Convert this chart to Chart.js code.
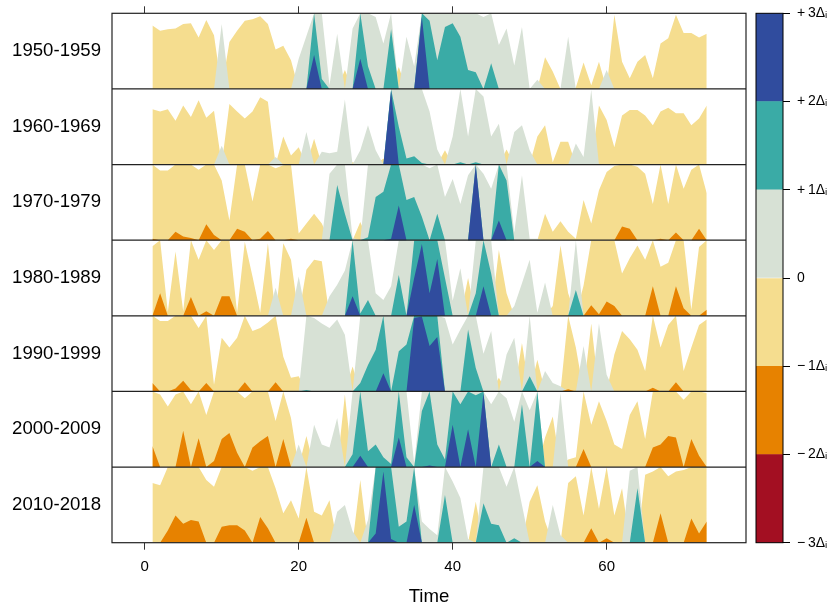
<!DOCTYPE html>
<html>
<head>
<meta charset="utf-8">
<script src="https://cdn.jsdelivr.net/npm/chart.js@4.4.0/dist/chart.umd.min.js"></script>
<style>
html, body { margin: 0; padding: 0; background: #fff; }
#wrap { position: relative; width: 833px; height: 609px; }
#horizon { position: absolute; left: 0; top: 0; }
#key { position: absolute; left: 745px; top: 0; }
</style>
</head>
<body>
<div id="wrap">
  <canvas id="horizon" width="750" height="609"></canvas>
  <canvas id="key" width="88" height="609"></canvas>
</div>
<script>
// decades, top panel first
const decades = ["1950-1959", "1960-1969", "1970-1979", "1980-1989", "1990-1999", "2000-2009", "2010-2018"];

const timeSteps = [1, 2, 3, 4, 5, 6, 7, 8, 9, 10, 11, 12, 13, 14, 15, 16, 17, 18, 19, 20,
  21, 22, 23, 24, 25, 26, 27, 28, 29, 30, 31, 32, 33, 34, 35, 36, 37, 38, 39, 40,
  41, 42, 43, 44, 45, 46, 47, 48, 49, 50, 51, 52, 53, 54, 55, 56, 57, 58, 59, 60,
  61, 62, 63, 64, 65, 66, 67, 68, 69, 70, 71, 72, 73];

// values in units of delta_i
const v1950 = [-0.84, -0.77, -0.79, -0.80, -0.86, -0.87, -0.68, -0.91, -0.71, 0.86,
  -0.62, -0.77, -0.90, -0.92, -0.96, -0.86, -0.52, -0.57, -0.38, 0.40,
  0.70, 2.45, 1.13, 0.05, 0.73, -0.25, 0.80, 2.40, 1.30, 0.95,
  0.60, 1.79, -0.29, 0.69, 0.30, 2.95, 1.90, 1.38, 1.82, 1.87,
  1.69, 1.25, 1.22, 0.95, 1.34, 0.58, 0.80, 0.31, 0.82, 0.00,
  0.12, -0.42, -0.23, 0.00, 0.69, -0.02, -0.35, -0.05, -0.36, 0.25,
  -0.98, -0.36, -0.14, -0.36, -0.45, -0.14, -0.60, -0.67, -0.98, -0.74,
  -0.74, -0.68, -0.73];
const v1960 = [-0.73, -0.70, -0.73, -0.58, -0.78, -0.63, -0.85, -0.62, -0.71, 0.25,
  -0.80, -0.70, -0.61, -0.70, -0.89, -0.83, 0.10, -0.37, -0.12, -0.23,
  0.43, -0.34, 0.17, 0.15, 0.17, 0.86, -0.03, 0.19, 0.52, 0.19,
  -0.08, 2.98, 1.50, 1.08, 1.11, 1.02, 0.70, 0.20, -0.19, 0.37,
  1.03, 0.37, 1.03, 0.90, 0.37, 0.54, -0.20, 0.43, 0.52, 0.19,
  -0.37, -0.52, -0.03, -0.30, -0.30, 0.28, 0.10, 0.99, -0.78, -0.59,
  -0.23, -0.65, -0.72, -0.72, -0.65, -0.52, -0.70, -0.75, -0.68, -0.68,
  -0.52, -0.61, -0.78];
const v1970 = [-1.02, -0.92, -0.92, -1.11, -1.05, -1.03, -0.93, -1.21, -1.07, -0.79,
  -0.26, -1.15, -1.11, -0.51, -1.02, -1.12, -0.95, -0.99, -1.02, -0.09,
  -0.22, -0.35, -0.22, 0.88, 1.73, 1.35, 0.03, -0.24, 1.04, 1.57,
  1.64, 2.02, 2.46, 1.53, 1.57, 1.31, 0.95, 1.35, 0.57, 0.81,
  0.48, 0.86, 2.99, 0.88, 0.68, 2.26, 1.79, 0.10, 0.86, 0.02,
  0.02, -0.35, -0.11, -0.25, -0.11, -0.02, -0.53, -0.22, -0.66, -0.90,
  -0.98, -1.18, -1.15, -0.97, -0.88, -0.48, -1.02, -0.48, -1.10, -0.68,
  -0.93, -1.15, -0.62];
const v1980 = [-0.92, -1.30, -0.05, -0.85, -0.06, -1.25, -0.74, -1.06, -0.87, -1.26,
  -1.26, -0.04, -0.98, -0.52, -0.04, -0.96, 0.37, -0.96, -0.74, 0.52,
  -0.61, -0.74, -0.72, 0.26, 0.41, 0.60, 2.26, 1.03, 1.21, 0.30,
  0.21, 0.39, 1.54, 1.00, 2.50, 2.95, 2.30, 2.75, 1.50, 0.20,
  0.63, -0.50, 1.30, 2.39, 1.56, -0.87, -0.30, 0.13, 0.43, 0.74,
  0.04, 0.44, -0.13, -0.93, -0.30, 1.34, -0.40, -1.14, -1.02, -1.19,
  -1.13, -0.56, -0.76, -0.93, -0.74, -1.39, -0.65, -0.70, -1.39, -1.10,
  -0.08, -0.91, -1.08];
const v1990 = [-1.11, -0.93, -0.93, -1.04, -1.14, -1.02, -0.84, -1.11, -0.09, -0.71,
  -0.58, -0.71, -1.12, -0.80, -0.84, -0.91, -1.12, -0.46, -0.18, -0.20,
  1.02, 0.97, 0.90, 0.84, 0.95, 0.75, -0.33, 1.11, 1.35, 1.55,
  2.24, 1.00, 1.53, 1.62, 2.97, 2.99, 2.60, 2.72, 0.97, 0.62,
  0.82, 1.82, 1.31, 0.50, 0.80, -0.18, 0.49, 0.71, -0.64, 1.20,
  -0.42, 0.27, 0.11, 0.07, -1.03, -0.58, 0.60, -0.90, 0.90, 0.22,
  -0.49, -0.80, -0.69, -0.55, -0.27, -1.05, -0.58, -0.88, -1.12, -0.27,
  -0.58, -0.88, -0.95];
const v2000 = [-1.28, -0.96, -0.80, -0.96, -1.48, -0.83, -1.38, -0.69, -1.08, -1.37,
  -1.45, -1.19, -0.91, -1.26, -1.34, -1.41, -0.61, -1.37, -0.65, 0.30,
  -0.41, 0.56, 0.30, 0.26, 0.65, -0.96, 1.17, 2.15, 1.21, 1.30,
  1.13, 1.04, 2.39, 1.13, 0.05, 1.74, 2.02, 1.30, 1.10, 2.56,
  1.83, 2.50, 1.95, 2.98, 0.83, 1.30, 0.91, 0.60, 1.83, 0.75,
  2.08, -0.39, -0.67, 0.98, -0.10, -0.13, -1.24, -0.56, -0.87, -0.61,
  -0.30, -0.24, -0.69, -0.87, -0.37, -1.26, -1.30, -1.41, -1.39, -0.89,
  -1.37, -1.15, -0.98];
const v2010 = [-0.79, -0.76, -1.16, -1.36, -1.25, -1.30, -1.28, -0.83, -0.74, -1.21,
  -1.23, -1.23, -1.16, -0.95, -1.34, -1.19, -0.72, -0.39, -0.56, -0.32,
  -1.33, -0.41, -0.36, -0.56, 0.41, 0.50, 0.15, -0.83, 0.30, 2.12,
  2.94, 2.05, 1.21, 1.28, 2.50, 0.28, 0.18, 0.10, 1.63, 0.81,
  0.59, 0.05, -0.54, 1.52, 1.25, 1.23, 0.74, 1.06, 0.50, -0.54,
  -0.76, -0.28, 0.50, 0.10, -0.79, -0.88, -0.36, -1.19, -0.45, -1.06,
  -0.36, -0.72, 0.95, 1.72, -0.90, -0.94, -1.39, -0.88, -0.94, -0.96,
  -1.32, -1.12, -1.28];

const xTicks = [0, 20, 40, 60];
const keyTicks = [-3, -2, -1, 0, 1, 2, 3];
const keyLabels = ["\u2212\u20093\u0394\u1D62", "\u2212\u20092\u0394\u1D62", "\u2212\u20091\u0394\u1D62", "0",
  "+\u20091\u0394\u1D62", "+\u20092\u0394\u1D62", "+\u20093\u0394\u1D62"];

const posColors = ["#d7e1d5", "#3aaba6", "#304c9e"];
const negColors = ["#f5dd8f", "#e78200", "#a30f22"];
const keyColors = ["#a30f22", "#e78200", "#f5dd8f", "#d7e1d5", "#3aaba6", "#304c9e"];

Chart.defaults.font.family = "'Liberation Sans', Arial, 'DejaVu Sans', sans-serif";
Chart.defaults.color = "#000";

const series = [v1950, v1960, v1970, v1980, v1990, v2000, v2010];

// one layer of the horizon: the part of the value between k and k+1 deltas
function band(vals, base, k, sign, color) {
  return {
    data: vals.map((v, i) => ({
      x: timeSteps[i],
      y: base + Math.min(Math.max(sign * v - k, 0), 1)
    })),
    backgroundColor: color,
    borderColor: "rgba(0,0,0,0)",
    borderWidth: 0,
    pointRadius: 0,
    tension: 0,
    fill: { value: base },
    order: 3 - k
  };
}

const datasets = [];
series.forEach((vals, p) => {
  const base = series.length - 1 - p;
  for (let k = 0; k < 3; k++) {
    datasets.push(band(vals, base, k, 1, posColors[k]));
    datasets.push(band(vals, base, k, -1, negColors[k]));
  }
});

const panelFrame = {
  id: "panelFrame",
  afterDatasetsDraw(chart) {
    const { ctx, chartArea: a } = chart;
    const y = chart.scales.y;
    ctx.save();
    ctx.strokeStyle = "#222";
    ctx.lineWidth = 1.2;
    ctx.beginPath();
    for (let k = 1; k < decades.length; k++) {
      const py = y.getPixelForValue(k);
      ctx.moveTo(a.left, py);
      ctx.lineTo(a.right, py);
    }
    ctx.stroke();
    ctx.strokeRect(a.left, a.top, a.right - a.left, a.bottom - a.top);
    ctx.restore();
  }
};

const xGrid = { drawOnChartArea: false, tickLength: 7, color: "#333", lineWidth: 1 };

new Chart(document.getElementById("horizon"), {
  type: "line",
  data: { datasets: datasets },
  options: {
    responsive: false,
    animation: false,
    events: [],
    layout: { padding: { right: 4 } },
    plugins: { legend: { display: false }, tooltip: { enabled: false } },
    scales: {
      x: {
        type: "linear",
        min: -4.25,
        max: 78.1,
        afterBuildTicks: (s) => { s.ticks = xTicks.map((v) => ({ value: v })); },
        grid: xGrid,
        border: { display: false },
        ticks: { font: { size: 15 }, padding: 8, maxRotation: 0 },
        title: { display: true, text: "Time", font: { size: 18.6 }, padding: { top: 0, bottom: 1 } },
        afterFit: (s) => { s.height = 66.3; }
      },
      xTop: {
        type: "linear",
        position: "top",
        min: -4.25,
        max: 78.1,
        afterBuildTicks: (s) => { s.ticks = xTicks.map((v) => ({ value: v })); },
        grid: xGrid,
        border: { display: false },
        ticks: { display: false },
        afterFit: (s) => { s.height = 13.3; }
      },
      y: {
        type: "linear",
        min: 0,
        max: decades.length,
        afterBuildTicks: (s) => {
          s.ticks = decades.map((d, i) => ({ value: i + 0.5 }));
        },
        ticks: {
          callback: (v) => decades[Math.round(decades.length - 0.5 - v)],
          font: { size: 18.6 },
          padding: 11
        },
        grid: { display: false, drawTicks: false },
        border: { display: false },
        afterFit: (s) => { s.width = 112; s.paddingTop = 0; s.paddingBottom = 0; }
      }
    }
  },
  plugins: [panelFrame]
});

// colour key
const keyFrame = {
  id: "keyFrame",
  afterDatasetsDraw(chart) {
    const { ctx, chartArea: a } = chart;
    ctx.save();
    ctx.strokeStyle = "#000";
    ctx.lineWidth = 1;
    ctx.strokeRect(a.left, a.top, a.right - a.left, a.bottom - a.top);
    ctx.restore();
  }
};

new Chart(document.getElementById("key"), {
  type: "bar",
  data: {
    labels: [""],
    datasets: keyColors.map((c, i) => ({
      data: [[keyTicks[i], keyTicks[i + 1]]],
      backgroundColor: c,
      borderWidth: 0,
      barPercentage: 1,
      categoryPercentage: 1
    }))
  },
  options: {
    responsive: false,
    animation: false,
    events: [],
    layout: { padding: { left: 11, top: 13.3, bottom: 66.3 } },
    plugins: { legend: { display: false }, tooltip: { enabled: false } },
    scales: {
      x: { display: false, stacked: true },
      y: {
        position: "right",
        min: -3,
        max: 3,
        afterBuildTicks: (s) => { s.ticks = keyTicks.map((v) => ({ value: v })); },
        ticks: {
          callback: (v) => keyLabels[keyTicks.indexOf(v)],
          font: { size: 14 },
          padding: 7
        },
        grid: { drawOnChartArea: false, tickLength: 7, color: "#000" },
        border: { display: false },
        afterFit: (s) => { s.width = 50; s.paddingTop = 0; s.paddingBottom = 0; }
      }
    }
  },
  plugins: [keyFrame]
});
</script>
</body>
</html>
